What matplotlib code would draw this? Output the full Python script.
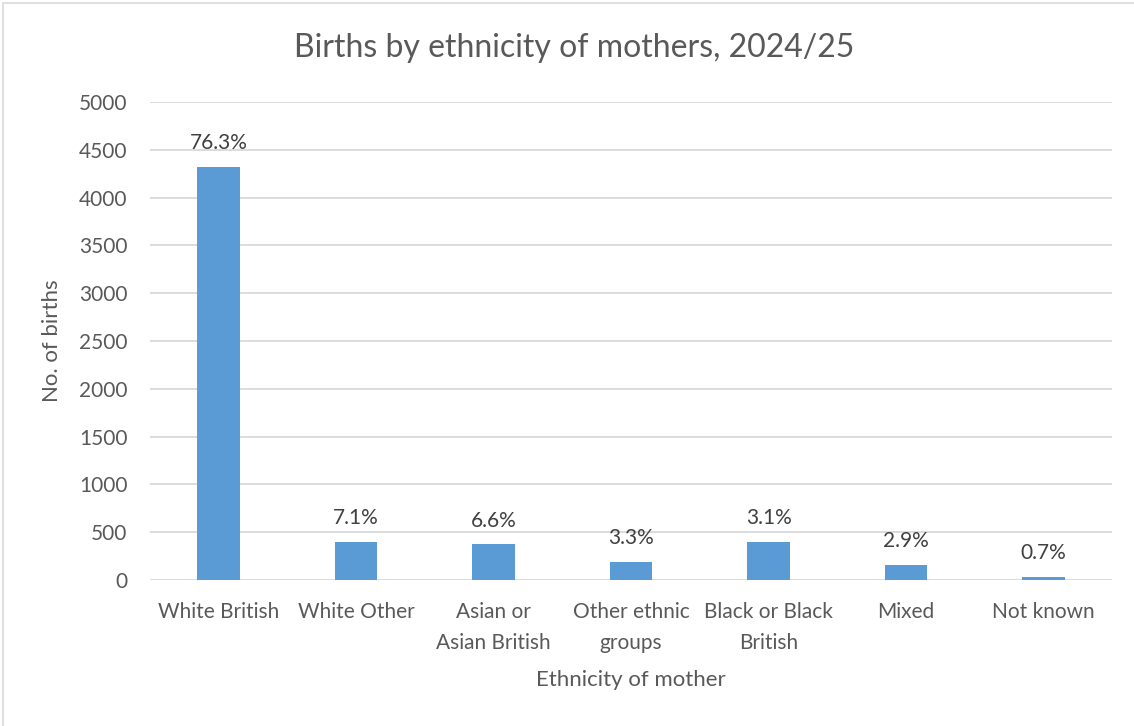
import matplotlib.pyplot as plt
from matplotlib.patches import Rectangle

categories = ["White British", "White Other", "Asian or\nAsian British",
              "Other ethnic\ngroups", "Black or Black\nBritish", "Mixed", "Not known"]
births = [4325, 401, 373, 185, 401, 160, 35]
pct_labels = ["76.3%", "7.1%", "6.6%", "3.3%", "3.1%", "2.9%", "0.7%"]

plt.rcParams['font.family'] = ['Lato', 'DejaVu Sans']
text_col = "#595959"
bar_col = "#5b9bd5"
grid_col = "#d9d9d9"

fig = plt.figure(figsize=(11.34, 7.26), dpi=100)
ax = fig.add_axes([0.132, 0.201, 0.849, 0.6585])

x = range(len(categories))
bars = ax.bar(x, births, width=0.31, color=bar_col, zorder=3)

for rect, lab in zip(bars, pct_labels):
    ax.annotate(lab, (rect.get_x() + rect.get_width() / 2, rect.get_height()),
                xytext=(0, 10), textcoords="offset points", ha="center", va="bottom",
                fontsize=15, color="#404040")

ax.set_ylim(0, 5000)
ax.set_xlim(-0.5, len(categories) - 0.5)
ax.set_yticks(range(0, 5001, 500))
ax.set_xticks(list(x))
ax.set_xticklabels(categories, linespacing=1.7)
ax.yaxis.grid(True, color=grid_col, linewidth=1.3, zorder=0)
ax.tick_params(length=0, labelsize=15, labelcolor=text_col)
ax.tick_params(axis="x", pad=16)
ax.tick_params(axis="y", pad=16)
for s in ax.spines.values():
    s.set_visible(False)

ax.set_ylabel("No. of births", fontsize=16, color=text_col, labelpad=12)
ax.set_xlabel("Ethnicity of mother", fontsize=16, color=text_col, labelpad=12)
fig.text(0.506, 0.934, "Births by ethnicity of mothers, 2024/25", ha="center", va="center",
         fontsize=23, color=text_col)

# thin frame round the whole chart
fig.patches.append(Rectangle((0.003, -0.01), 1.5, 1.006, transform=fig.transFigure,
                             fill=False, edgecolor=grid_col, linewidth=1.2))

fig.savefig("out.png", dpi=100)
